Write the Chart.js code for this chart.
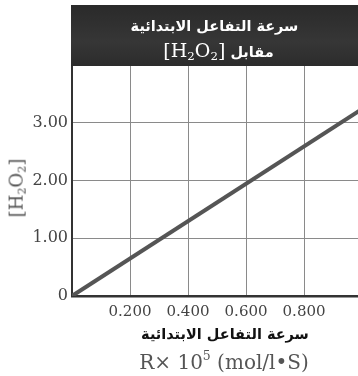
<!DOCTYPE html>
<html lang="ar">
<head>
<meta charset="utf-8">
<script src="https://cdn.jsdelivr.net/npm/chart.js@4"></script>
<style>
  html, body { margin: 0; padding: 0; background: #fff; overflow: hidden; }
  #wrap { position: relative; width: 358px; height: 376px; }
  #chart { position: absolute; left: 0; top: 0; }
  .hdr {
    position: absolute; left: 71px; top: 5px; width: 287px; height: 61px;
    background: linear-gradient(#2a2a2a, #363636 60%, #2c2c2c);
    color: #fff; text-align: center;
  }
  .ar { font-family: "DejaVu Sans", sans-serif; font-weight: bold; direction: rtl; }
  .ser { font-family: "DejaVu Serif", serif; font-weight: normal; }
  .hdr .l1 { position: absolute; left: 0; right: 0; top: 12px; font-size: 14.5px; line-height: 18px; }
  .hdr .l2 { position: absolute; left: 8px; right: 0; top: 34px; font-size: 14.5px; line-height: 22px; }
  .hdr .l2 .ser { font-size: 19px; }
  sub { font-size: 0.62em; vertical-align: -0.25em; }
  sup { font-size: 0.62em; vertical-align: 0.7em; }
  .ytitle {
    position: absolute; left: 17px; top: 188px; transform: translate(-50%, -50%) rotate(-90deg);
    font-size: 18px; color: #555; white-space: nowrap;
  }
  .xt1 { position: absolute; left: 125px; width: 200px; top: 326px; text-align: center; font-size: 14.5px; color: #111; }
  .xt2 { position: absolute; left: 124px; width: 200px; top: 348px; text-align: center; font-size: 20px; color: #555; white-space: nowrap; }
</style>
</head>
<body>
<div id="wrap">
  <canvas id="chart" width="358" height="376"></canvas>
  <div class="hdr">
    <div class="l1 ar">سرعة التفاعل الابتدائية</div>
    <div class="l2 ar">مقابل <span class="ser" dir="ltr">[H<sub>2</sub>O<sub>2</sub>]</span></div>
  </div>
  <div class="ytitle ser">[H<sub>2</sub>O<sub>2</sub>]</div>
  <div class="xt1 ar">سرعة التفاعل الابتدائية</div>
  <div class="xt2 ser">R× 10<sup>5</sup> (mol/l•S)</div>
</div>
<script>
// valeurs
const rateX = [0, 1.0];          // R x 10^5 (mol/l.S)
const concY = [0, 3.24];         // [H2O2]
const xTicks = [0.2, 0.4, 0.6, 0.8];
const xTickLabels = ['0.200', '0.400', '0.600', '0.800'];
const yTicks = [0, 1, 2, 3];
const yTickLabels = ['0', '1.00', '2.00', '3.00'];

new Chart(document.getElementById('chart').getContext('2d'), {
  type: 'line',
  data: {
    datasets: [{
      data: rateX.map((x, i) => ({ x: x, y: concY[i] })),
      borderColor: '#555',
      borderWidth: 4,
      pointRadius: 0,
      tension: 0
    }]
  },
  options: {
    responsive: false,
    animation: false,
    devicePixelRatio: 1,
    layout: { padding: { top: 65, right: 0, left: 0, bottom: 0 } },
    plugins: { legend: { display: false }, tooltip: { enabled: false } },
    scales: {
      x: {
        type: 'linear', min: 0, max: 0.986,
        afterBuildTicks: (axis) => { axis.ticks = xTicks.map(v => ({ value: v })); },
        afterFit: (scale) => { scale.height = 80; },
        ticks: {
          color: '#444', font: { family: 'DejaVu Serif', size: 15 }, padding: 7, maxRotation: 0,
          callback: (v) => xTickLabels[xTicks.indexOf(v)]
        },
        grid: { color: '#8a8a8a', lineWidth: 1, drawTicks: false },
        border: { color: '#333', width: 2.5 }
      },
      y: {
        type: 'linear', min: 0, max: 4,
        afterBuildTicks: (axis) => { axis.ticks = yTicks.map(v => ({ value: v })); },
        afterFit: (scale) => { scale.width = 72; },
        ticks: {
          color: '#444', font: { family: 'DejaVu Serif', size: 16 }, padding: 4,
          callback: (v) => yTickLabels[yTicks.indexOf(v)]
        },
        grid: { color: '#8a8a8a', lineWidth: 1, drawTicks: false },
        border: { color: '#333', width: 2 }
      }
    }
  }
});
</script>
</body>
</html>
